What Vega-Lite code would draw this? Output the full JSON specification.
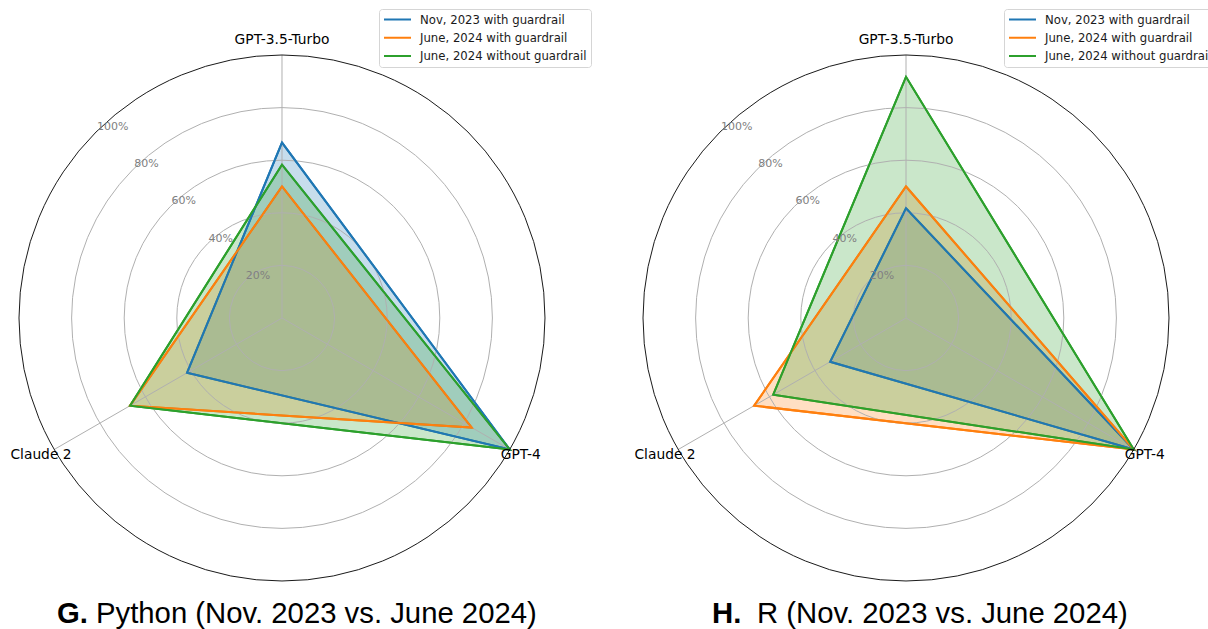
{
  "$schema": "https://vega.github.io/schema/vega-lite/v6.json",
  "padding": 0,
  "spacing": 0,
  "background": "white",
  "config": {
    "view": {"stroke": null},
    "font": "DejaVu Sans",
    "legend": {"symbolType": "stroke", "symbolSize": 729, "symbolStrokeWidth": 2, "rowPadding": 4.3, "labelOffset": 8, "labelFont": "DejaVu Sans", "labelFontSize": 11.7, "labelColor": "#1a1a1a", "padding": 4, "strokeColor": "#d5d5d5", "fillColor": "#ffffff", "cornerRadius": 3, "labelLimit": 400, "symbolOffset": 0, "clipHeight": 13}
  },
  "datasets": {
    "scores": [
      {"lang": "Python", "series": "Nov, 2023 with guardrail", "model": "GPT-3.5-Turbo", "value": 66.7},
      {"lang": "Python", "series": "Nov, 2023 with guardrail", "model": "GPT-4", "value": 100},
      {"lang": "Python", "series": "Nov, 2023 with guardrail", "model": "Claude 2", "value": 41.7},
      {"lang": "Python", "series": "June, 2024 with guardrail", "model": "GPT-3.5-Turbo", "value": 50},
      {"lang": "Python", "series": "June, 2024 with guardrail", "model": "GPT-4", "value": 83.3},
      {"lang": "Python", "series": "June, 2024 with guardrail", "model": "Claude 2", "value": 66.7},
      {"lang": "Python", "series": "June, 2024 without guardrail", "model": "GPT-3.5-Turbo", "value": 58.3},
      {"lang": "Python", "series": "June, 2024 without guardrail", "model": "GPT-4", "value": 100},
      {"lang": "Python", "series": "June, 2024 without guardrail", "model": "Claude 2", "value": 66.7},
      {"lang": "R", "series": "Nov, 2023 with guardrail", "model": "GPT-3.5-Turbo", "value": 41.7},
      {"lang": "R", "series": "Nov, 2023 with guardrail", "model": "GPT-4", "value": 100},
      {"lang": "R", "series": "Nov, 2023 with guardrail", "model": "Claude 2", "value": 33.3},
      {"lang": "R", "series": "June, 2024 with guardrail", "model": "GPT-3.5-Turbo", "value": 50},
      {"lang": "R", "series": "June, 2024 with guardrail", "model": "GPT-4", "value": 100},
      {"lang": "R", "series": "June, 2024 with guardrail", "model": "Claude 2", "value": 66.7},
      {"lang": "R", "series": "June, 2024 without guardrail", "model": "GPT-3.5-Turbo", "value": 91.7},
      {"lang": "R", "series": "June, 2024 without guardrail", "model": "GPT-4", "value": 100},
      {"lang": "R", "series": "June, 2024 without guardrail", "model": "Claude 2", "value": 58.3}
    ],
    "models": [{"model": "GPT-3.5-Turbo"}, {"model": "GPT-4"}, {"model": "Claude 2"}],
    "rings": [{"r": 0.2}, {"r": 0.4}, {"r": 0.6}, {"r": 0.8}],
    "outer": [{"r": 1.0}],
    "ticks": [{"r": 0.2, "label": "20%"}, {"r": 0.4, "label": "40%"}, {"r": 0.6, "label": "60%"}, {"r": 0.8, "label": "80%"}, {"r": 1.0, "label": "100%"}],
    "titles": [
      {"lang": "Python", "letter": "G.", "text": "Python (Nov. 2023 vs. June 2024)"},
      {"lang": "R", "letter": "H.", "text": "R (Nov. 2023 vs. June 2024)"}
    ]
  },
  "resolve": {"scale": {"x": "independent", "y": "independent", "color": "independent"}},
  "hconcat": [
    {
      "width": 604,
      "height": 629,
      "layer": [
        {
          "data": {"name": "scores"},
          "transform": [
            {"filter": "datum.lang === 'Python'"},
            {"calculate": "datum.model === 'GPT-3.5-Turbo' ? PI/2 : (datum.model === 'GPT-4' ? -PI/6 : 7*PI/6)", "as": "ang"},
            {"calculate": "datum.value/100*cos(datum.ang)", "as": "px"},
            {"calculate": "datum.value/100*sin(datum.ang)", "as": "py"}
          ],
          "mark": {"type": "line", "interpolate": "linear-closed", "strokeWidth": 2},
          "encoding": {
            "x": {"field": "px", "type": "quantitative", "scale": {"domain": [-1.0722, 1.2243], "nice": false, "zero": false}, "axis": null},
            "y": {"field": "py", "type": "quantitative", "scale": {"domain": [-1.1825, 1.2091], "nice": false, "zero": false}, "axis": null},
            "color": {"field": "series", "type": "nominal", "scale": {"domain": ["Nov, 2023 with guardrail", "June, 2024 with guardrail", "June, 2024 without guardrail"], "range": ["#1f77b4", "#ff7f0e", "#2ca02c"]},
              "legend": {"orient": "none", "legendX": 379, "legendY": 9, "title": null}},
            "order": {"field": "ang", "type": "quantitative"}
          }
        },
        {
          "data": {"name": "scores"},
          "transform": [
            {"filter": "datum.lang === 'Python'"},
            {"calculate": "datum.model === 'GPT-3.5-Turbo' ? PI/2 : (datum.model === 'GPT-4' ? -PI/6 : 7*PI/6)", "as": "ang"},
            {"calculate": "datum.value/100*cos(datum.ang)", "as": "px"},
            {"calculate": "datum.value/100*sin(datum.ang)", "as": "py"}
          ],
          "mark": {"type": "line", "interpolate": "linear-closed", "strokeWidth": 0, "strokeOpacity": 0, "fillOpacity": 0.25},
          "encoding": {
            "x": {"field": "px", "type": "quantitative"},
            "y": {"field": "py", "type": "quantitative"},
            "fill": {"field": "series", "type": "nominal", "scale": {"domain": ["Nov, 2023 with guardrail", "June, 2024 with guardrail", "June, 2024 without guardrail"], "range": ["#1f77b4", "#ff7f0e", "#2ca02c"]}, "legend": null},
            "order": {"field": "ang", "type": "quantitative"}
          }
        },
        {
          "data": {"name": "rings"},
          "mark": {"type": "arc", "theta": 0, "theta2": 6.2832, "fill": "#ffffff", "fillOpacity": 0, "stroke": "#b0b0b0", "strokeWidth": 1},
          "encoding": {
            "x": {"datum": 0, "type": "quantitative"},
            "y": {"datum": 0, "type": "quantitative"},
            "radius": {"field": "r", "type": "quantitative", "stack": null, "scale": {"type": "linear", "domain": [0, 1], "range": [0, 263], "zero": true, "nice": false}}
          }
        },
        {
          "data": {"name": "models"},
          "transform": [
            {"calculate": "datum.model === 'GPT-3.5-Turbo' ? PI/2 : (datum.model === 'GPT-4' ? -PI/6 : 7*PI/6)", "as": "ang"},
            {"calculate": "cos(datum.ang)", "as": "sx"},
            {"calculate": "sin(datum.ang)", "as": "sy"},
            {"calculate": "0", "as": "zero"}
          ],
          "mark": {"type": "rule", "stroke": "#b0b0b0", "strokeWidth": 1},
          "encoding": {
            "x": {"field": "zero", "type": "quantitative"},
            "y": {"field": "zero", "type": "quantitative"},
            "x2": {"field": "sx"},
            "y2": {"field": "sy"}
          }
        },
        {
          "data": {"name": "scores"},
          "transform": [
            {"filter": "datum.lang === 'Python'"},
            {"calculate": "datum.model === 'GPT-3.5-Turbo' ? PI/2 : (datum.model === 'GPT-4' ? -PI/6 : 7*PI/6)", "as": "ang"},
            {"calculate": "datum.value/100*cos(datum.ang)", "as": "px"},
            {"calculate": "datum.value/100*sin(datum.ang)", "as": "py"}
          ],
          "mark": {"type": "line", "interpolate": "linear-closed", "strokeWidth": 2},
          "encoding": {
            "x": {"field": "px", "type": "quantitative"},
            "y": {"field": "py", "type": "quantitative"},
            "color": {"field": "series", "type": "nominal"},
            "order": {"field": "ang", "type": "quantitative"}
          }
        },
        {
          "data": {"name": "outer"},
          "mark": {"type": "arc", "theta": 0, "theta2": 6.2832, "fill": "#ffffff", "fillOpacity": 0, "stroke": "#1a1a1a", "strokeWidth": 1},
          "encoding": {
            "x": {"datum": 0, "type": "quantitative"},
            "y": {"datum": 0, "type": "quantitative"},
            "radius": {"field": "r", "type": "quantitative", "stack": null}
          }
        },
        {
          "data": {"name": "ticks"},
          "transform": [
            {"calculate": "-datum.r*0.7071", "as": "tx"},
            {"calculate": "datum.r*0.7071", "as": "ty"}
          ],
          "mark": {"type": "text", "align": "left", "baseline": "bottom", "dx": 1, "font": "DejaVu Sans", "fontSize": 11, "color": "#808080"},
          "encoding": {
            "x": {"field": "tx", "type": "quantitative"},
            "y": {"field": "ty", "type": "quantitative"},
            "text": {"field": "label"}
          }
        },
        {
          "data": {"name": "models"},
          "transform": [{"filter": "datum.model === 'GPT-3.5-Turbo'"}],
          "mark": {"type": "text", "align": "center", "baseline": "alphabetic", "dy": -10.5, "font": "DejaVu Sans", "fontSize": 13.8, "color": "#000000"},
          "encoding": {"x": {"datum": 0, "type": "quantitative"}, "y": {"datum": 1, "type": "quantitative"}, "text": {"field": "model"}}
        },
        {
          "data": {"name": "models"},
          "transform": [{"filter": "datum.model === 'GPT-4'"}],
          "mark": {"type": "text", "align": "left", "baseline": "alphabetic", "dx": -9, "dy": 9.3, "font": "DejaVu Sans", "fontSize": 13.8, "color": "#000000"},
          "encoding": {"x": {"datum": 0.8660, "type": "quantitative"}, "y": {"datum": -0.5, "type": "quantitative"}, "text": {"field": "model"}}
        },
        {
          "data": {"name": "models"},
          "transform": [{"filter": "datum.model === 'Claude 2'"}],
          "mark": {"type": "text", "align": "right", "baseline": "alphabetic", "dx": 17.3, "dy": 9.3, "font": "DejaVu Sans", "fontSize": 13.8, "color": "#000000"},
          "encoding": {"x": {"datum": -0.8660, "type": "quantitative"}, "y": {"datum": -0.5, "type": "quantitative"}, "text": {"field": "model"}}
        },
        {
          "data": {"name": "titles"},
          "transform": [{"filter": "datum.lang === 'Python'"}],
          "mark": {"type": "text", "align": "left", "baseline": "alphabetic", "font": "Liberation Sans", "fontSize": 29.3, "fontWeight": "bold", "color": "#000000"},
          "encoding": {"x": {"datum": -0.8555, "type": "quantitative"}, "y": {"datum": -1.1597, "type": "quantitative"}, "text": {"field": "letter"}}
        },
        {
          "data": {"name": "titles"},
          "transform": [{"filter": "datum.lang === 'Python'"}],
          "mark": {"type": "text", "align": "left", "baseline": "alphabetic", "font": "Liberation Sans", "fontSize": 29.3, "color": "#000000"},
          "encoding": {"x": {"datum": -0.7072, "type": "quantitative"}, "y": {"datum": -1.1597, "type": "quantitative"}, "text": {"field": "text"}}
        }
      ]
    },
    {
      "width": 604,
      "height": 629,
      "layer": [
        {
          "data": {"name": "scores"},
          "transform": [
            {"filter": "datum.lang === 'R'"},
            {"calculate": "datum.model === 'GPT-3.5-Turbo' ? PI/2 : (datum.model === 'GPT-4' ? -PI/6 : 7*PI/6)", "as": "ang"},
            {"calculate": "datum.value/100*cos(datum.ang)", "as": "px"},
            {"calculate": "datum.value/100*sin(datum.ang)", "as": "py"}
          ],
          "mark": {"type": "line", "interpolate": "linear-closed", "strokeWidth": 2},
          "encoding": {
            "x": {"field": "px", "type": "quantitative", "scale": {"domain": [-1.1483, 1.1483], "nice": false, "zero": false}, "axis": null},
            "y": {"field": "py", "type": "quantitative", "scale": {"domain": [-1.1825, 1.2091], "nice": false, "zero": false}, "axis": null},
            "color": {"field": "series", "type": "nominal", "scale": {"domain": ["Nov, 2023 with guardrail", "June, 2024 with guardrail", "June, 2024 without guardrail"], "range": ["#1f77b4", "#ff7f0e", "#2ca02c"]},
              "legend": {"orient": "none", "legendX": 400, "legendY": 9, "title": null}},
            "order": {"field": "ang", "type": "quantitative"}
          }
        },
        {
          "data": {"name": "scores"},
          "transform": [
            {"filter": "datum.lang === 'R'"},
            {"calculate": "datum.model === 'GPT-3.5-Turbo' ? PI/2 : (datum.model === 'GPT-4' ? -PI/6 : 7*PI/6)", "as": "ang"},
            {"calculate": "datum.value/100*cos(datum.ang)", "as": "px"},
            {"calculate": "datum.value/100*sin(datum.ang)", "as": "py"}
          ],
          "mark": {"type": "line", "interpolate": "linear-closed", "strokeWidth": 0, "strokeOpacity": 0, "fillOpacity": 0.25},
          "encoding": {
            "x": {"field": "px", "type": "quantitative"},
            "y": {"field": "py", "type": "quantitative"},
            "fill": {"field": "series", "type": "nominal", "scale": {"domain": ["Nov, 2023 with guardrail", "June, 2024 with guardrail", "June, 2024 without guardrail"], "range": ["#1f77b4", "#ff7f0e", "#2ca02c"]}, "legend": null},
            "order": {"field": "ang", "type": "quantitative"}
          }
        },
        {
          "data": {"name": "rings"},
          "mark": {"type": "arc", "theta": 0, "theta2": 6.2832, "fill": "#ffffff", "fillOpacity": 0, "stroke": "#b0b0b0", "strokeWidth": 1},
          "encoding": {
            "x": {"datum": 0, "type": "quantitative"},
            "y": {"datum": 0, "type": "quantitative"},
            "radius": {"field": "r", "type": "quantitative", "stack": null, "scale": {"type": "linear", "domain": [0, 1], "range": [0, 263], "zero": true, "nice": false}}
          }
        },
        {
          "data": {"name": "models"},
          "transform": [
            {"calculate": "datum.model === 'GPT-3.5-Turbo' ? PI/2 : (datum.model === 'GPT-4' ? -PI/6 : 7*PI/6)", "as": "ang"},
            {"calculate": "cos(datum.ang)", "as": "sx"},
            {"calculate": "sin(datum.ang)", "as": "sy"},
            {"calculate": "0", "as": "zero"}
          ],
          "mark": {"type": "rule", "stroke": "#b0b0b0", "strokeWidth": 1},
          "encoding": {
            "x": {"field": "zero", "type": "quantitative"},
            "y": {"field": "zero", "type": "quantitative"},
            "x2": {"field": "sx"},
            "y2": {"field": "sy"}
          }
        },
        {
          "data": {"name": "scores"},
          "transform": [
            {"filter": "datum.lang === 'R'"},
            {"calculate": "datum.model === 'GPT-3.5-Turbo' ? PI/2 : (datum.model === 'GPT-4' ? -PI/6 : 7*PI/6)", "as": "ang"},
            {"calculate": "datum.value/100*cos(datum.ang)", "as": "px"},
            {"calculate": "datum.value/100*sin(datum.ang)", "as": "py"}
          ],
          "mark": {"type": "line", "interpolate": "linear-closed", "strokeWidth": 2},
          "encoding": {
            "x": {"field": "px", "type": "quantitative"},
            "y": {"field": "py", "type": "quantitative"},
            "color": {"field": "series", "type": "nominal"},
            "order": {"field": "ang", "type": "quantitative"}
          }
        },
        {
          "data": {"name": "outer"},
          "mark": {"type": "arc", "theta": 0, "theta2": 6.2832, "fill": "#ffffff", "fillOpacity": 0, "stroke": "#1a1a1a", "strokeWidth": 1},
          "encoding": {
            "x": {"datum": 0, "type": "quantitative"},
            "y": {"datum": 0, "type": "quantitative"},
            "radius": {"field": "r", "type": "quantitative", "stack": null}
          }
        },
        {
          "data": {"name": "ticks"},
          "transform": [
            {"calculate": "-datum.r*0.7071", "as": "tx"},
            {"calculate": "datum.r*0.7071", "as": "ty"}
          ],
          "mark": {"type": "text", "align": "left", "baseline": "bottom", "dx": 1, "font": "DejaVu Sans", "fontSize": 11, "color": "#808080"},
          "encoding": {
            "x": {"field": "tx", "type": "quantitative"},
            "y": {"field": "ty", "type": "quantitative"},
            "text": {"field": "label"}
          }
        },
        {
          "data": {"name": "models"},
          "transform": [{"filter": "datum.model === 'GPT-3.5-Turbo'"}],
          "mark": {"type": "text", "align": "center", "baseline": "alphabetic", "dy": -10.5, "font": "DejaVu Sans", "fontSize": 13.8, "color": "#000000"},
          "encoding": {"x": {"datum": 0, "type": "quantitative"}, "y": {"datum": 1, "type": "quantitative"}, "text": {"field": "model"}}
        },
        {
          "data": {"name": "models"},
          "transform": [{"filter": "datum.model === 'GPT-4'"}],
          "mark": {"type": "text", "align": "left", "baseline": "alphabetic", "dx": -9, "dy": 9.3, "font": "DejaVu Sans", "fontSize": 13.8, "color": "#000000"},
          "encoding": {"x": {"datum": 0.8660, "type": "quantitative"}, "y": {"datum": -0.5, "type": "quantitative"}, "text": {"field": "model"}}
        },
        {
          "data": {"name": "models"},
          "transform": [{"filter": "datum.model === 'Claude 2'"}],
          "mark": {"type": "text", "align": "right", "baseline": "alphabetic", "dx": 17.3, "dy": 9.3, "font": "DejaVu Sans", "fontSize": 13.8, "color": "#000000"},
          "encoding": {"x": {"datum": -0.8660, "type": "quantitative"}, "y": {"datum": -0.5, "type": "quantitative"}, "text": {"field": "model"}}
        },
        {
          "data": {"name": "titles"},
          "transform": [{"filter": "datum.lang === 'R'"}],
          "mark": {"type": "text", "align": "left", "baseline": "alphabetic", "font": "Liberation Sans", "fontSize": 29.3, "fontWeight": "bold", "color": "#000000"},
          "encoding": {"x": {"datum": -0.7376, "type": "quantitative"}, "y": {"datum": -1.1597, "type": "quantitative"}, "text": {"field": "letter"}}
        },
        {
          "data": {"name": "titles"},
          "transform": [{"filter": "datum.lang === 'R'"}],
          "mark": {"type": "text", "align": "left", "baseline": "alphabetic", "font": "Liberation Sans", "fontSize": 29.3, "color": "#000000"},
          "encoding": {"x": {"datum": -0.5665, "type": "quantitative"}, "y": {"datum": -1.1597, "type": "quantitative"}, "text": {"field": "text"}}
        }
      ]
    }
  ]
}
